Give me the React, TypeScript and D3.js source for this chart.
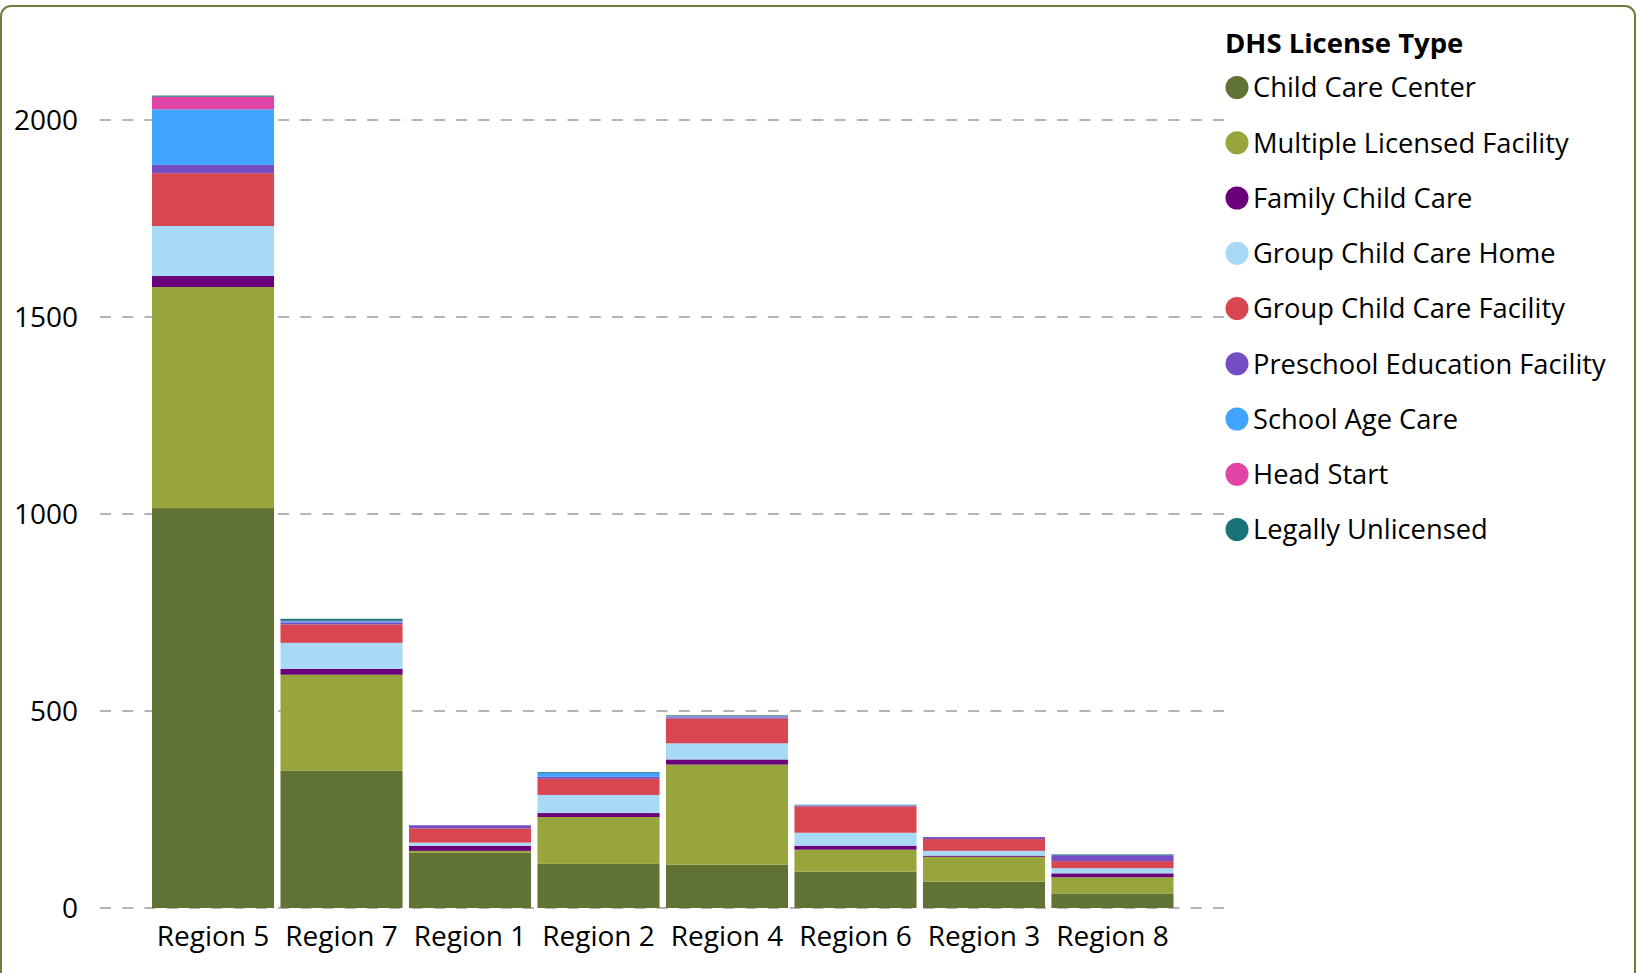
import React from "react";
import * as d3 from "d3";

// regions in the order they are drawn
const regions = ["Region 5", "Region 7", "Region 1", "Region 2", "Region 4", "Region 6", "Region 3", "Region 8"];

const licenseTypes = [
  "Child Care Center",
  "Multiple Licensed Facility",
  "Family Child Care",
  "Group Child Care Home",
  "Group Child Care Facility",
  "Preschool Education Facility",
  "School Age Care",
  "Head Start",
  "Legally Unlicensed",
];

const childCareCenter = [1015, 348, 140, 112, 110, 92, 67, 37];
const multipleLicensed = [561, 244, 5, 119, 254, 56, 63, 41];
const familyChildCare = [28, 15, 13, 10, 13, 10, 3, 10];
const groupHome = [127, 66, 8, 46, 41, 33, 12, 13];
const groupFacility = [134, 47, 36, 41, 63, 67, 30, 18];
const preschool = [21, 5, 8, 5, 3, 2, 5, 15];
const schoolAge = [141, 3, 0, 10, 2, 1, 0, 0];
const headStart = [32, 1, 0, 0, 1, 0, 0, 0];
const legallyUnlicensed = [3, 5, 0, 2, 2, 1, 0, 2];

const yTicks = [0, 500, 1000, 1500, 2000];

const colors = ["#607334", "#97a53c", "#6b007b", "#a8d9f5", "#d84652", "#744ec2", "#41a4ff", "#e044a7", "#197278"];

const seriesValues = [
  childCareCenter,
  multipleLicensed,
  familyChildCare,
  groupHome,
  groupFacility,
  preschool,
  schoolAge,
  headStart,
  legallyUnlicensed,
];

const rows = regions.map((r, i) => {
  const row: Record<string, any> = { region: r };
  licenseTypes.forEach((t, k) => (row[t] = seriesValues[k][i]));
  return row;
});

const W = 1637;
const H = 973;
const font = "'Segoe UI', 'Open Sans', 'Noto Sans', sans-serif";

export default function App() {
  const x = d3.scaleBand().domain(regions).range([152, 1173.5]).paddingInner(0.05).paddingOuter(0);
  const y = d3.scaleLinear().domain([0, 2000]).range([908, 120]);
  const color = d3.scaleOrdinal<string, string>().domain(licenseTypes).range(colors);
  const stacked = d3.stack<any>().keys(licenseTypes)(rows);

  return (
    <svg width={W} height={H} style={{ position: "absolute", left: 0, top: 0 }} fontFamily={font}>
      <rect x={1} y={6} width={W - 3} height={H + 40} rx={10} fill="#fff" stroke="#6b7f3c" strokeWidth={2} />

      {yTicks.map((t) => (
        <g key={t}>
          <line x1={100} x2={1224} y1={y(t)} y2={y(t)} stroke="#b4b4b4" strokeWidth={2.2} strokeDasharray="11 11.26" />
          <text x={78} y={y(t)} dy="0.35em" textAnchor="end" fontSize={28} fill="#000">
            {t}
          </text>
        </g>
      ))}

      {stacked.map((s) => (
        <g key={s.key} fill={color(s.key)}>
          {s.map((d) => (
            <rect
              key={d.data.region}
              x={x(d.data.region)}
              width={x.bandwidth()}
              y={y(d[1])}
              height={Math.max(0, y(d[0]) - y(d[1]))}
            />
          ))}
        </g>
      ))}

      {regions.map((r) => (
        <text key={r} x={(x(r) ?? 0) + x.bandwidth() / 2} y={946} textAnchor="middle" fontSize={28} fill="#000">
          {r}
        </text>
      ))}

      <text x={1225} y={53} fontSize={27.5} fontWeight="bold" fill="#000">
        DHS License Type
      </text>
      {licenseTypes.map((t, i) => (
        <g key={t} transform={`translate(0, ${87.5 + i * 55.25})`}>
          <circle cx={1237} cy={0} r={11.5} fill={color(t)} />
          <text x={1253} y={0} dy="0.36em" fontSize={27.3} fill="#000">
            {t}
          </text>
        </g>
      ))}
    </svg>
  );
}
